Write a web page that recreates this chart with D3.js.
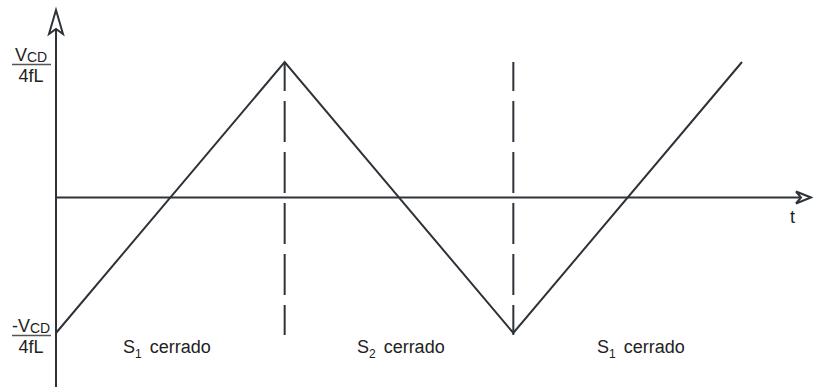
<!DOCTYPE html>
<html>
<head>
<meta charset="utf-8">
<script src="https://cdn.jsdelivr.net/npm/d3@7/dist/d3.min.js"></script>
<style>
  html, body { margin: 0; padding: 0; background: #fff; }
  svg { display: block; font-family: "Liberation Sans", Arial, sans-serif; }
</style>
</head>
<body>
<svg id="chart" width="813" height="387"></svg>
<script>
// Inductor current waveform: time in half-periods, current normalised to V_CD/(4fL)
const timePoints = [0, 1, 2, 3];
const currentValues = [-1, 1, -1, 1];
// switching instants marked with dashed guides
const switchTimes = [1, 2];
// switch state labels: main letter, subscript, rest
const phaseLabels = [
  { main: "S", sub: "1", rest: "cerrado" },
  { main: "S", sub: "2", rest: "cerrado" },
  { main: "S", sub: "1", rest: "cerrado" }
];
const yTickValues = [1, -1];
const yTickLabels = [
  { prefix: "", main: "V", sub: "CD", den: "4fL" },
  { prefix: "-", main: "V", sub: "CD", den: "4fL" }
];
const axisLabel = "t";

const svg = d3.select("#chart");
const ink = "#2e333a";
const textInk = "#222";

const x = d3.scaleLinear().domain([0, 3]).range([56, 742]);
const y = d3.scaleLinear().domain([-1, 1]).range([333, 62]);

// axes
svg.append("line")
  .attr("x1", x(0)).attr("x2", x(0)).attr("y1", 387).attr("y2", 12)
  .attr("stroke", ink).attr("stroke-width", 2);
svg.append("line")
  .attr("x1", x(0)).attr("x2", 809).attr("y1", y(0)).attr("y2", y(0))
  .attr("stroke", ink).attr("stroke-width", 2);

// open dart arrowheads
const yTip = [x(0), 10];
svg.append("path")
  .attr("d", `M${yTip[0]},${yTip[1]} L${yTip[0] - 7},${yTip[1] + 24} L${yTip[0]},${yTip[1] + 19} L${yTip[0] + 7},${yTip[1] + 24} Z`)
  .attr("fill", "#fff").attr("stroke", ink).attr("stroke-width", 2).attr("stroke-linejoin", "miter");
const xTip = [811, y(0)];
svg.append("path")
  .attr("d", `M${xTip[0]},${xTip[1]} L${xTip[0] - 15},${xTip[1] - 6} L${xTip[0] - 10},${xTip[1]} L${xTip[0] - 15},${xTip[1] + 6} Z`)
  .attr("fill", "#fff").attr("stroke", ink).attr("stroke-width", 2).attr("stroke-linejoin", "miter");

// dashed switching guides
svg.selectAll("line.guide")
  .data(switchTimes)
  .join("line")
  .attr("class", "guide")
  .attr("x1", d => x(d)).attr("x2", d => x(d))
  .attr("y1", y(1)).attr("y2", y(-1) + 2)
  .attr("stroke", ink).attr("stroke-width", 2)
  .attr("stroke-dasharray", "41 10")
  .attr("stroke-dashoffset", 12);

// triangular current
const line = d3.line().x(d => x(d[0])).y(d => y(d[1]));
svg.append("path")
  .datum(timePoints.map((t, i) => [t, currentValues[i]]))
  .attr("d", line)
  .attr("fill", "none").attr("stroke", ink).attr("stroke-width", 2)
  .attr("stroke-linejoin", "miter");

// y tick labels as stacked fractions
const tickG = svg.selectAll("g.ytick")
  .data(yTickValues.map((v, i) => ({ v, lab: yTickLabels[i] })))
  .join("g")
  .attr("class", "ytick")
  .attr("transform", d => `translate(0,${y(d.v) + 2.5})`);
const num = tickG.append("text")
  .attr("x", 31).attr("y", -4)
  .attr("text-anchor", "middle")
  .attr("font-size", 18).attr("fill", textInk);
num.append("tspan").text(d => d.lab.prefix);
num.append("tspan").text(d => d.lab.main);
num.append("tspan").attr("font-size", 14).attr("dy", 1).text(d => d.lab.sub);
tickG.append("line")
  .attr("x1", 12).attr("x2", 51).attr("y1", 0).attr("y2", 0)
  .attr("stroke", "#555").attr("stroke-width", 1.3);
tickG.append("text")
  .attr("x", 31).attr("y", 17)
  .attr("text-anchor", "middle")
  .attr("font-size", 18).attr("fill", textInk)
  .text(d => d.lab.den);

// time axis label
svg.append("text")
  .attr("x", 790).attr("y", 223)
  .attr("font-size", 18).attr("fill", textInk)
  .text(axisLabel);

// switch state labels under each interval
const labelStarts = [0.293, 1.316, 2.366];
const pl = svg.selectAll("text.phase")
  .data(phaseLabels)
  .join("text")
  .attr("class", "phase")
  .attr("x", (d, i) => x(labelStarts[i]))
  .attr("y", 353)
  .attr("font-size", 18).attr("fill", textInk);
pl.append("tspan").text(d => d.main);
pl.append("tspan").attr("font-size", 12).attr("dy", 5).text(d => d.sub);
pl.append("tspan").attr("dy", -5).attr("dx", 8).text(d => d.rest);
</script>
</body>
</html>
